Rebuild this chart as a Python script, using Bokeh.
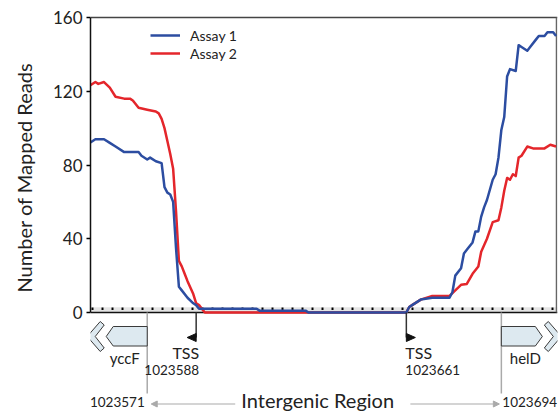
from bokeh.plotting import figure
from bokeh.models import (Range1d, FixedTicker, Legend, LegendItem, Label, Arrow, NormalHead, Title)
from bokeh.embed import file_html
from bokeh.resources import INLINE

# ---------------- data ----------------
START = 1023551
assay1_offset = [0, 2, 5, 7, 9, 12, 17, 18, 20, 21, 23, 25, 26, 27, 28, 29, 30, 31, 32, 34,
                 36, 37, 38, 58, 59, 75, 76, 110, 111, 112, 115, 119, 125, 126, 127, 129, 130, 131, 133, 134,
                 135, 136, 137, 138, 140, 141, 142, 143, 144, 145, 146, 148, 149, 150, 152, 153, 155, 156, 158, 159,
                 161, 162]
assay1_reads = [92, 94, 94, 92, 90, 87, 87, 85, 83, 84, 82, 81, 68, 65, 64, 60, 35, 14, 12, 8,
                5, 4, 2, 2, 1, 1, 0, 0, 3, 4, 7, 8, 8, 11, 20, 24, 32, 34, 38, 44,
                44, 52, 57, 61, 72, 75, 84, 99, 106, 128, 132, 131, 145, 144, 142, 144, 148, 150, 150, 152,
                152, 150]
assay2_offset = [0, 2, 3, 5, 7, 9, 12, 14, 15, 17, 20, 23, 24, 25, 26, 27, 28, 29, 30, 31,
                 32, 33, 34, 36, 37, 38, 40, 110, 111, 112, 115, 119, 125, 127, 129, 131, 133, 135, 136, 138,
                 140, 142, 143, 144, 145, 146, 147, 148, 149, 150, 152, 154, 158, 160, 162]
assay2_reads = [123, 125, 124, 125, 122, 117, 116, 116, 115, 111, 110, 109, 108, 105, 100, 93, 86, 78, 55, 28,
                25, 21, 17, 10, 5, 4, 0, 0, 3, 4, 7, 9, 9, 12, 15, 15.5, 21, 25, 33, 40,
                49, 50, 57, 66, 73, 72, 75, 74, 84, 85, 90, 89, 89, 91, 90]
series_names = ["Assay 1", "Assay 2"]
y_ticks = [0, 40, 80, 120, 160]
y_title = "Number of Mapped Reads"
threshold = 2
tss_positions = [1023588, 1023661]
tss_dirs = [-1, 1]
gene_bounds = [1023571, 1023694]
gene_names = ["yccF", "helD"]
gene_dirs = [-1, 1]
region_label = "Intergenic Region"

assay1_pos = [START + o for o in assay1_offset]
assay2_pos = [START + o for o in assay2_offset]

# ---------------- layout ----------------
W, H = 559, 412
ML, MR, MT, MB = 90, 2, 10, 0
XMIN, XMAX = 1023551.3, 1023713.5
PXY = 295 / 160.0
YMAX = 160 + 7 / PXY
YMIN = -(H - MT - MB - 302) / PXY
PXX = (W - ML - MR) / (XMAX - XMIN)
TB = 7  # text baseline correction (px)

def dx(px):
    return px / PXX

def dy(px):  # px below the zero line
    return -px / PXY

BLUE = "#2C4DA1"
RED = "#E4262B"
FONT = "Lato"
TXT = "#222222"

p = figure(width=W, height=H, x_range=Range1d(XMIN, XMAX), y_range=Range1d(YMIN, YMAX),
           output_backend="svg", toolbar_location=None, x_axis_location=None,
           min_border_left=ML, min_border_right=MR, min_border_top=MT, min_border_bottom=MB)
p.outline_line_color = None
p.grid.visible = False
p.background_fill_color = "white"
p.border_fill_color = "white"

ax = p.yaxis[0]
ax.bounds = (0, 160)
ax.ticker = FixedTicker(ticks=y_ticks)
ax.minor_tick_line_color = None
ax.major_tick_out = 4
ax.major_tick_in = 0
ax.major_label_standoff = 4
ax.axis_line_width = 1.5
ax.axis_line_color = "#111111"
ax.major_tick_line_width = 1.5
ax.major_label_text_font = FONT
ax.major_label_text_font_size = "17px"
ax.major_label_text_color = TXT
ax.axis_label = " "
ax.axis_label_text_font_size = "1px"
ax.axis_label_standoff = 5

# y-axis title, placed along the 0..160 part of the axis
p.add_layout(Title(text=y_title, align="left", offset=120, text_font=FONT,
                   text_font_size="20px", text_font_style="normal", text_color=TXT), "left")

# threshold band and dotted line
p.varea(x=[XMIN, XMAX], y1=[0, 0], y2=[threshold + 0.8, threshold + 0.8], fill_color="#e4e4e4")
p.line([XMIN, XMAX], [threshold, threshold], line_color="black", line_width=2.5,
       line_dash="2 8", line_dash_offset=-1)

# frame lines
p.line([XMIN, XMAX], [0, 0], line_color="#111111", line_width=1.5)
p.line([XMIN, XMAX], [160, 160], line_color="#444444", line_width=1.3)
p.line([XMAX - dx(1), XMAX - dx(1)], [0, 160], line_color="#666666", line_width=1.5)

r2 = p.line(assay2_pos, assay2_reads, line_color=RED, line_width=2.5, line_join="round")
r1 = p.line(assay1_pos, assay1_reads, line_color=BLUE, line_width=2.5, line_join="round")

legend = Legend(items=[LegendItem(label=series_names[0], renderers=[r1]),
                       LegendItem(label=series_names[1], renderers=[r2])],
                location=(60, 350), padding=0, margin=0, spacing=0,
                border_line_color=None, background_fill_alpha=0,
                glyph_width=30, glyph_height=18, label_height=18, label_standoff=10,
                label_text_font=FONT, label_text_font_size="14px", label_text_color=TXT)
p.add_layout(legend)

# gene boundary lines
for gb in gene_bounds:
    p.line([gb, gb], [0, dy(81)], line_color="#aaaaaa", line_width=1.5)

# gene arrows
body = [(0, 14), (34, 14), (41, 24), (34, 33.5), (0, 33.5)]
chev = [(60, 24), (47, 9), (43, 12.5), (52, 24), (43, 35.5), (47, 39)]
xs, ys = [], []
for gb, d in zip(gene_bounds, gene_dirs):
    for shape in (chev, body):
        xs.append([gb + d * dx(a) for a, b in shape])
        ys.append([dy(b) for a, b in shape])
p.patches(xs, ys, fill_color="#dde9f0", line_color="#3a3a3a", line_width=1)

for gb, d, name in zip(gene_bounds, gene_dirs, gene_names):
    off = -22.5 if d < 0 else 24
    p.add_layout(Label(x=gb + dx(off), y=dy(52 - TB), text=name, text_align="center",
                       text_baseline="alphabetic", text_font=FONT, text_font_size="15px",
                       text_color=TXT))

# TSS markers
txs, tys = [], []
for t, d in zip(tss_positions, tss_dirs):
    p.line([t, t], [0, dy(25)], line_color="#333333", line_width=1.5)
    txs.append([t, t + d * dx(9), t])
    tys.append([dy(21), dy(25), dy(29)])
    if d < 0:
        xa, al = t + dx(3), "right"
    else:
        xa, al = t - dx(1), "left"
    p.add_layout(Label(x=xa, y=dy(47 - TB), text="TSS", text_align=al, text_baseline="alphabetic",
                       text_font=FONT, text_font_size="16px", text_color=TXT))
    p.add_layout(Label(x=xa, y=dy(64.5 - TB), text=str(t), text_align=al, text_baseline="alphabetic",
                       text_font=FONT, text_font_size="13.5px", text_color=TXT))
p.patches(txs, tys, fill_color="#111111", line_color="#111111", line_width=1)

# bottom coordinate labels and region arrows
p.add_layout(Label(x=gene_bounds[0] - dx(2.5), y=dy(96 - TB), text=str(gene_bounds[0]), text_align="right",
                   text_baseline="alphabetic", text_font=FONT, text_font_size="13.5px", text_color=TXT))
p.add_layout(Label(x=gene_bounds[1] + dx(1), y=dy(96 - TB), text=str(gene_bounds[1]), text_align="left",
                   text_baseline="alphabetic", text_font=FONT, text_font_size="13.5px", text_color=TXT))
p.add_layout(Label(x=gene_bounds[0] + dx(170.5), y=dy(94.5 - TB), text=region_label, text_align="center",
                   text_baseline="alphabetic", text_font=FONT, text_font_size="20px", text_color=TXT))
p.add_layout(Arrow(end=NormalHead(size=6, fill_color="#aaaaaa", line_color="#aaaaaa"),
                   x_start=gene_bounds[0] + dx(88), y_start=dy(91.5),
                   x_end=gene_bounds[0] + dx(4), y_end=dy(91.5), line_color="#aaaaaa", line_width=1.2))
p.add_layout(Arrow(end=NormalHead(size=6, fill_color="#aaaaaa", line_color="#aaaaaa"),
                   x_start=gene_bounds[1] - dx(91), y_start=dy(91.5),
                   x_end=gene_bounds[1] - dx(2), y_end=dy(91.5), line_color="#aaaaaa", line_width=1.2))

open("out.html", "w").write(file_html(p, INLINE))
